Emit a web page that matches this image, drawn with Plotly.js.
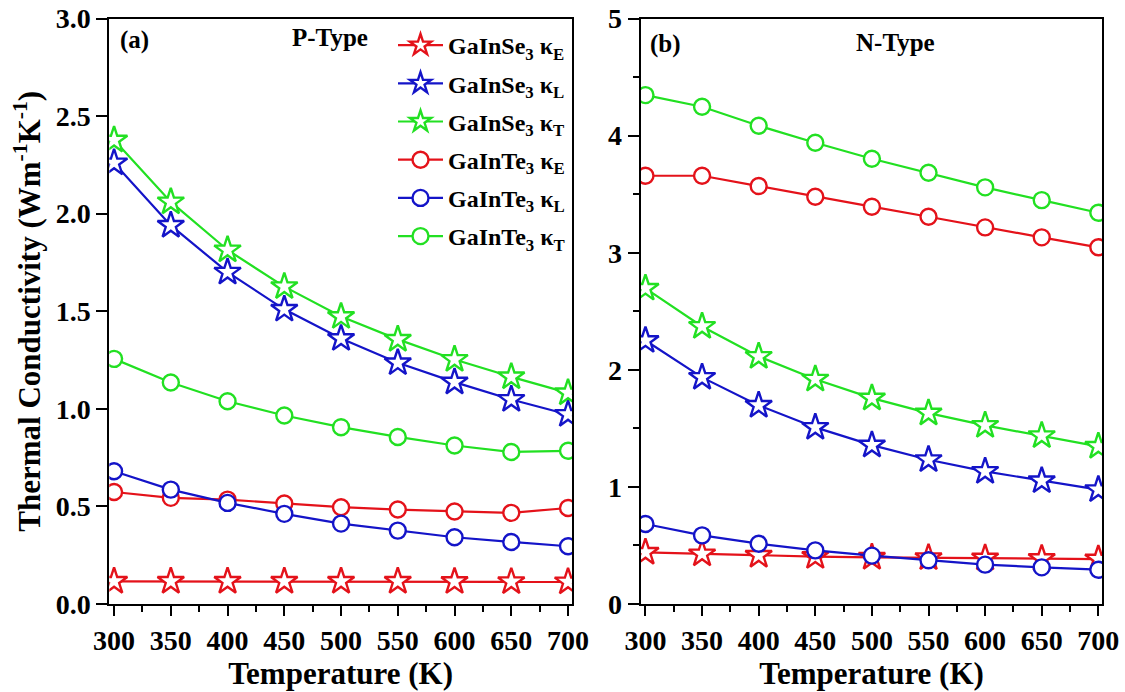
<!DOCTYPE html>
<html>
<head>
<meta charset="utf-8">
<script src="https://cdn.plot.ly/plotly-3.0.1.min.js"></script>
<style>html,body{margin:0;padding:0;background:#fff;}#chart{width:1125px;height:692px;}</style>
</head>
<body>
<div id="chart"></div>
<script>
// Temperature (K)
const temperature = [300, 350, 400, 450, 500, 550, 600, 650, 700];

// Panel (a) P-Type
const pSe_kE = [0.116, 0.116, 0.116, 0.116, 0.116, 0.116, 0.115, 0.114, 0.113];
const pSe_kL = [2.26, 1.94, 1.70, 1.51, 1.36, 1.236, 1.137, 1.048, 0.971];
const pSe_kT = [2.377, 2.06, 1.814, 1.626, 1.473, 1.356, 1.253, 1.164, 1.082];
const pTe_kE = [0.574, 0.544, 0.535, 0.515, 0.496, 0.484, 0.474, 0.467, 0.492];
const pTe_kL = [0.680, 0.586, 0.518, 0.462, 0.412, 0.376, 0.342, 0.318, 0.296];
const pTe_kT = [1.256, 1.135, 1.039, 0.966, 0.906, 0.856, 0.812, 0.779, 0.785];

// Panel (b) N-Type
const nSe_kE = [0.441, 0.427, 0.415, 0.405, 0.398, 0.395, 0.392, 0.388, 0.384];
const nSe_kL = [2.25, 1.935, 1.696, 1.508, 1.357, 1.232, 1.132, 1.052, 0.976];
const nSe_kT = [2.696, 2.37, 2.114, 1.92, 1.758, 1.63, 1.525, 1.437, 1.346];
const nTe_kE = [3.657, 3.657, 3.569, 3.478, 3.393, 3.307, 3.216, 3.131, 3.046];
const nTe_kL = [0.683, 0.586, 0.515, 0.458, 0.413, 0.373, 0.336, 0.313, 0.293];
const nTe_kT = [4.346, 4.246, 4.084, 3.939, 3.802, 3.683, 3.558, 3.449, 3.341];

const seriesNames = [
  'GaInSe<sub>3</sub> κ<sub>E</sub>',
  'GaInSe<sub>3</sub> κ<sub>L</sub>',
  'GaInSe<sub>3</sub> κ<sub>T</sub>',
  'GaInTe<sub>3</sub> κ<sub>E</sub>',
  'GaInTe<sub>3</sub> κ<sub>L</sub>',
  'GaInTe<sub>3</sub> κ<sub>T</sub>'
];

const RED = '#e4121a', BLUE = '#1414c8', GREEN = '#22e022';
const colors = [RED, BLUE, GREEN, RED, BLUE, GREEN];
const symbols = ['star', 'star', 'star', 'circle', 'circle', 'circle'];

const pData = [pSe_kE, pSe_kL, pSe_kT, pTe_kE, pTe_kL, pTe_kT];
const nData = [nSe_kE, nSe_kL, nSe_kT, nTe_kE, nTe_kL, nTe_kT];

function mk(y, i, xa, ya, showleg) {
  const star = symbols[i] === 'star';
  return {
    x: temperature, y: y, type: 'scatter', mode: 'lines+markers',
    name: seriesNames[i], legendgroup: 'g' + i, showlegend: showleg,
    xaxis: xa, yaxis: ya,
    line: {color: colors[i], width: 2.2},
    marker: {symbol: symbols[i], size: star ? 20 : 16, color: '#ffffff',
             line: {color: colors[i], width: 2.4}}
  };
}

const traces = [];
pData.forEach((y, i) => traces.push(mk(y, i, 'x', 'y', true)));
nData.forEach((y, i) => traces.push(mk(y, i, 'x2', 'y2', false)));

const FONT = 'Liberation Serif, Times New Roman, serif';
const tickFont = {family: FONT, size: 28, color: '#000', weight: 'bold'};
const titleFont = {family: FONT, size: 31, color: '#000'};

const H = 692, W = 1125;
const yDom = [(H - 604) / H, (H - 18.5) / H];

function xaxis(dom) {
  return {
    domain: dom, range: [295.8, 703.5], tickvals: temperature,
    ticks: 'outside', ticklen: 10, tickwidth: 2, tickcolor: '#000',
    minor: {dtick: 25, tick0: 300, ticks: 'outside', ticklen: 6, tickwidth: 2, tickcolor: '#000'},
    showline: true, linewidth: 2, linecolor: '#000', mirror: true,
    showgrid: false, zeroline: false, tickfont: tickFont,
    title: {text: '<b>Temperature (K)</b>', font: titleFont, standoff: 4},
    automargin: false
  };
}

const annFont = {family: FONT, size: 25, color: '#000'};

const layout = {
  width: W, height: H,
  margin: {l: 0, r: 0, t: 0, b: 0},
  paper_bgcolor: '#fff', plot_bgcolor: '#fff',
  font: {family: FONT, color: '#000'},
  xaxis: Object.assign(xaxis([109.3 / W, 572 / W]), {anchor: 'y'}),
  xaxis2: Object.assign(xaxis([640.7 / W, 1102.3 / W]), {anchor: 'y2'}),
  yaxis: {
    domain: yDom, range: [0, 3], dtick: 0.5, tickformat: '.1f', anchor: 'x',
    ticks: 'outside', ticklen: 11, tickwidth: 2, tickcolor: '#000',
    showline: true, linewidth: 2, linecolor: '#000', mirror: true,
    showgrid: false, zeroline: false, tickfont: tickFont,
    title: {text: '<b>Thermal Conductivity (Wm<sup>-1</sup>K<sup>-1</sup>)</b>', font: titleFont, standoff: 6},
    automargin: false
  },
  yaxis2: {
    domain: yDom, range: [0, 5], dtick: 1, anchor: 'x2',
    ticks: 'outside', ticklen: 11, tickwidth: 2, tickcolor: '#000',
    minor: {dtick: 0.5, ticks: 'outside', ticklen: 6, tickwidth: 2, tickcolor: '#000'},
    showline: true, linewidth: 2, linecolor: '#000', mirror: true,
    showgrid: false, zeroline: false, tickfont: tickFont,
    automargin: false
  },
  showlegend: true,
  legend: {
    x: 393 / W, y: (H - 23) / H, xanchor: 'left', yanchor: 'top',
    bgcolor: 'rgba(0,0,0,0)', borderwidth: 0,
    font: {family: FONT, size: 24, color: '#000', weight: 'bold'},
    traceorder: 'grouped', tracegroupgap: 4, itemwidth: 45
  },
  annotations: [
    {text: '<b>(a)</b>', x: 134 / W, y: (H - 40) / H, xref: 'paper', yref: 'paper', xanchor: 'center', yanchor: 'middle', showarrow: false, font: annFont},
    {text: '<b>P-Type</b>', x: 330 / W, y: (H - 38) / H, xref: 'paper', yref: 'paper', xanchor: 'center', yanchor: 'middle', showarrow: false, font: annFont},
    {text: '<b>(b)</b>', x: 665 / W, y: (H - 44) / H, xref: 'paper', yref: 'paper', xanchor: 'center', yanchor: 'middle', showarrow: false, font: annFont},
    {text: '<b>N-Type</b>', x: 895 / W, y: (H - 42) / H, xref: 'paper', yref: 'paper', xanchor: 'center', yanchor: 'middle', showarrow: false, font: annFont}
  ]
};

Plotly.newPlot('chart', traces, layout, {displayModeBar: false, staticPlot: true});
</script>
</body>
</html>
